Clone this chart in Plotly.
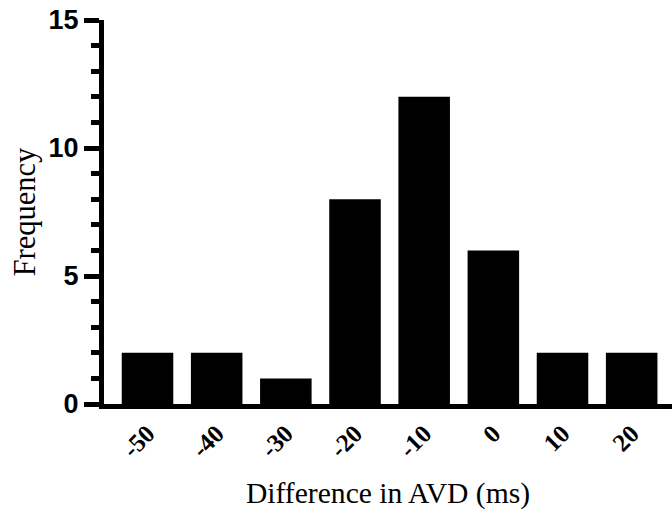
import plotly.graph_objects as go

bins = [-50, -40, -30, -20, -10, 0, 10, 20]
freq = [2, 2, 1, 8, 12, 6, 2, 2]
y_ticks = [0, 5, 10, 15]

fig = go.Figure()
fig.add_trace(go.Bar(
    x=bins, y=freq, width=7.45,
    marker=dict(color="black", line=dict(width=0)),
))

fig.update_layout(
    width=672, height=513,
    margin=dict(l=104, r=0, t=20, b=109, autoexpand=False),
    plot_bgcolor="white", paper_bgcolor="white",
    showlegend=False,
)
fig.update_xaxes(
    range=[-56.29, 25.83],
    tickmode="array", tickvals=bins, ticktext=[str(b) for b in bins],
    tickangle=-45,
    tickfont=dict(family="Liberation Serif", size=25, color="black", weight="bold"),
    ticks="", showgrid=False, zeroline=False,
    showline=True, linewidth=5, linecolor="black",
    title=dict(text="Difference in AVD (ms)",
               font=dict(family="Liberation Serif", size=29.6, color="black"),
               standoff=22),
    automargin=False,
)
fig.update_yaxes(
    range=[0, 15],
    tickmode="array", tickvals=y_ticks,
    tickfont=dict(family="Liberation Sans", size=27, color="black", weight="bold"),
    ticks="outside", ticklen=15, tickwidth=5, tickcolor="black",
    minor=dict(dtick=1, ticks="outside", ticklen=8, tickwidth=5, tickcolor="black"),
    showgrid=False, zeroline=False,
    showline=True, linewidth=5, linecolor="black",
    title=dict(text="Frequency",
               font=dict(family="Liberation Serif", size=30.5, color="black"),
               standoff=5),
    automargin=False,
)

fig.write_html("out.html")
